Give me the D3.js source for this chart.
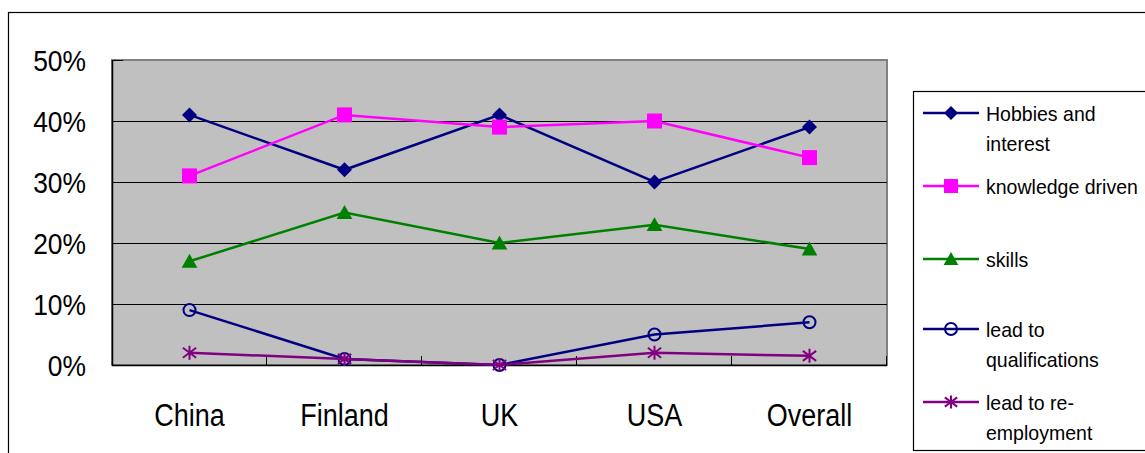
<!DOCTYPE html>
<html>
<head>
<meta charset="utf-8">
<script src="https://cdn.jsdelivr.net/npm/d3@7"></script>
<style>
  html, body { margin: 0; padding: 0; background: #fff; }
  svg { display: block; font-family: "Liberation Sans", Arial, sans-serif; }
</style>
</head>
<body>
<svg id="chart" width="1145" height="453"></svg>
<script>
// Categories and series values (shares of respondents)
const categories = ["China", "Finland", "UK", "USA", "Overall"];
const hobbies        = [0.41, 0.32, 0.41, 0.30, 0.39];
const knowledge      = [0.31, 0.41, 0.39, 0.40, 0.34];
const skills         = [0.17, 0.25, 0.20, 0.23, 0.19];
const qualifications = [0.09, 0.01, 0.00, 0.05, 0.07];
const reemployment   = [0.02, 0.01, 0.00, 0.02, 0.015];
const yTicks = [0, 0.1, 0.2, 0.3, 0.4, 0.5];

const seriesNames = ["Hobbies and\ninterest", "knowledge driven", "skills",
                     "lead to\nqualifications", "lead to re-\nemployment"];

const series = [
  { name: seriesNames[0], values: hobbies,        color: "#000080", marker: "diamond" },
  { name: seriesNames[1], values: knowledge,      color: "#FF00FF", marker: "square" },
  { name: seriesNames[2], values: skills,         color: "#008000", marker: "triangle" },
  { name: seriesNames[3], values: qualifications, color: "#000080", marker: "circle" },
  { name: seriesNames[4], values: reemployment,   color: "#800080", marker: "star" }
];

const svg = d3.select("#chart");
const plot = { left: 112, right: 887, top: 60, bottom: 365 };

const x = d3.scaleBand().domain(categories).range([plot.left, plot.right]).padding(0);
const y = d3.scaleLinear().domain([0, 0.5]).range([plot.bottom, plot.top]);

// Outer chart frame
svg.append("rect")
  .attr("x", 8.5).attr("y", 12.5).attr("width", 1200).attr("height", 500)
  .attr("fill", "#fff").attr("stroke", "#000").attr("stroke-width", 1.2);

// Plot area background
svg.append("rect")
  .attr("x", plot.left).attr("y", plot.top)
  .attr("width", plot.right - plot.left).attr("height", plot.bottom - plot.top)
  .attr("fill", "#C0C0C0").attr("stroke", "#808080").attr("stroke-width", 2);

// Horizontal gridlines
svg.append("g").selectAll("line")
  .data(yTicks.filter(t => t > 0 && t < 0.5))
  .join("line")
  .attr("x1", plot.left).attr("x2", plot.right)
  .attr("y1", d => Math.round(y(d)) + 0.5).attr("y2", d => Math.round(y(d)) + 0.5)
  .attr("stroke", "#000").attr("stroke-width", 1);

// Value axis line and inward ticks
svg.append("line")
  .attr("x1", plot.left + 0.5).attr("x2", plot.left + 0.5)
  .attr("y1", plot.top).attr("y2", plot.bottom)
  .attr("stroke", "#000").attr("stroke-width", 1.5);
svg.append("g").selectAll("line")
  .data(yTicks)
  .join("line")
  .attr("x1", plot.left).attr("x2", plot.left + 11)
  .attr("y1", d => Math.round(y(d)) + 0.5).attr("y2", d => Math.round(y(d)) + 0.5)
  .attr("stroke", "#000").attr("stroke-width", 1);

// Category axis line and ticks at band edges
svg.append("line")
  .attr("x1", plot.left).attr("x2", plot.right)
  .attr("y1", plot.bottom + 0.5).attr("y2", plot.bottom + 0.5)
  .attr("stroke", "#000").attr("stroke-width", 1.5);
svg.append("g").selectAll("line")
  .data(categories)
  .join("line")
  .attr("x1", d => Math.round(x(d) + x.bandwidth()) - 0.5)
  .attr("x2", d => Math.round(x(d) + x.bandwidth()) - 0.5)
  .attr("y1", plot.bottom - 9).attr("y2", plot.bottom)
  .attr("stroke", "#000").attr("stroke-width", 1);

// Value axis labels
const pct = d3.format(".0%");
svg.append("g").selectAll("text")
  .data(yTicks)
  .join("text")
  .attr("transform", d => `translate(86,${y(d) + 11}) scale(0.88,1)`)
  .attr("text-anchor", "end")
  .attr("font-size", 30)
  .attr("fill", "#000")
  .text(d => pct(d));

// Category labels
svg.append("g").selectAll("text")
  .data(categories)
  .join("text")
  .attr("transform", d => `translate(${x(d) + x.bandwidth() / 2},426) scale(0.87,1)`)
  .attr("text-anchor", "middle")
  .attr("font-size", 31)
  .attr("fill", "#000")
  .text(d => d);

// Marker shapes
function drawMarker(g, type, color, s) {
  if (type === "diamond") {
    g.append("path").attr("d", `M0,${-s}L${s},0L0,${s}L${-s},0Z`).attr("fill", color);
  } else if (type === "square") {
    g.append("rect").attr("x", -s).attr("y", -s).attr("width", 2 * s).attr("height", 2 * s).attr("fill", color);
  } else if (type === "triangle") {
    g.append("path").attr("d", `M0,${-s}L${s * 1.05},${s * 0.85}L${-s * 1.05},${s * 0.85}Z`).attr("fill", color);
  } else if (type === "circle") {
    g.append("circle").attr("r", s * 0.8).attr("fill", "none").attr("stroke", color).attr("stroke-width", 2);
  } else if (type === "star") {
    const a = s * 0.95;
    g.append("path")
      .attr("d", `M0,${-s}V${s}M${-a},${-a * 0.75}L${a},${a * 0.75}M${-a},${a * 0.75}L${a},${-a * 0.75}`)
      .attr("stroke", color).attr("stroke-width", 2).attr("fill", "none");
  }
}

const line = d3.line()
  .x((d, i) => x(categories[i]) + x.bandwidth() / 2)
  .y(d => y(d));

const markerSize = { diamond: 7.5, square: 7.5, triangle: 7.5, circle: 7.5, star: 7 };

series.forEach(s => {
  const g = svg.append("g");
  g.append("path")
    .datum(s.values)
    .attr("d", line)
    .attr("fill", "none")
    .attr("stroke", s.color)
    .attr("stroke-width", 2.5);
  s.values.forEach((v, i) => {
    const m = g.append("g")
      .attr("transform", `translate(${x(categories[i]) + x.bandwidth() / 2},${y(v)})`);
    drawMarker(m, s.marker, s.color, markerSize[s.marker]);
  });
});

// Legend
const legend = svg.append("g");
legend.append("rect")
  .attr("x", 913.5).attr("y", 91.5).attr("width", 400).attr("height", 359)
  .attr("fill", "#fff").attr("stroke", "#000").attr("stroke-width", 1.2);

const legendY = [113, 186, 259, 329, 402];
const legendSize = { diamond: 7, square: 7, triangle: 7, circle: 7.5, star: 6.5 };
series.forEach((s, i) => {
  const g = legend.append("g").attr("transform", `translate(0,${legendY[i]})`);
  g.append("line").attr("x1", 923).attr("x2", 979).attr("y1", 0).attr("y2", 0)
    .attr("stroke", s.color).attr("stroke-width", 2.5);
  const m = g.append("g").attr("transform", "translate(951,0)");
  drawMarker(m, s.marker, s.color, legendSize[s.marker]);
  s.name.split("\n").forEach((ln, j) => {
    g.append("text")
      .attr("transform", `translate(986,${8 + j * 30}) scale(0.93,1)`)
      .attr("font-size", 21)
      .attr("fill", "#000")
      .text(ln);
  });
});
</script>
</body>
</html>
